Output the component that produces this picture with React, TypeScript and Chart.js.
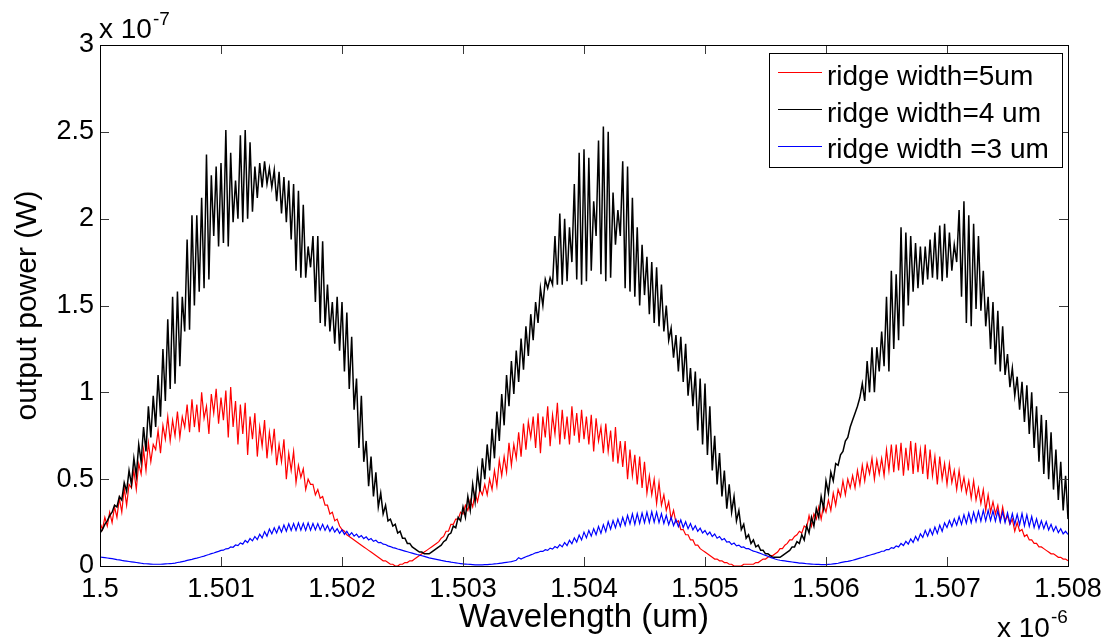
import { useEffect, useRef } from 'react';
import { Chart, registerables } from 'chart.js';

Chart.register(...registerables);

// Sampling grid of the wavelength axis (values shown in units of 1e-6)
const WL_START = 1.5;
const WL_STEP = 0.00002;

const X_TICKS = [1.5, 1.501, 1.502, 1.503, 1.504, 1.505, 1.506, 1.507, 1.508];
const X_TICK_LABELS = ['1.5', '1.501', '1.502', '1.503', '1.504', '1.505', '1.506', '1.507', '1.508'];
const Y_TICKS = [0, 0.5, 1, 1.5, 2, 2.5, 3];
const Y_TICK_LABELS = ['0', '0.5', '1', '1.5', '2', '2.5', '3'];

const SERIES_NAMES = ['ridge width=5um', 'ridge width=4 um', 'ridge width =3 um'];
const SERIES_COLORS = ['#ff0000', '#000000', '#0000ff'];

// output power, units of 1e-7 W
const red5um = [
  0.25, 0.21, 0.28, 0.23, 0.31, 0.25, 0.34, 0.28, 0.39, 0.31,
  0.45, 0.35, 0.47, 0.45, 0.55, 0.44, 0.59, 0.53, 0.67, 0.55,
  0.71, 0.60, 0.70, 0.67, 0.78, 0.65, 0.81, 0.73, 0.86, 0.72,
  0.84, 0.75, 0.89, 0.74, 0.86, 0.80, 0.93, 0.77, 0.96, 0.80,
  0.93, 0.77, 1.00, 0.85, 0.92, 0.76, 0.99, 0.88, 1.02, 0.82,
  0.97, 0.84, 1.01, 0.74, 1.03, 0.80, 0.95, 0.70, 0.93, 0.76,
  0.94, 0.64, 0.86, 0.73, 0.88, 0.63, 0.80, 0.69, 0.84, 0.62,
  0.77, 0.66, 0.79, 0.58, 0.70, 0.60, 0.73, 0.50, 0.65, 0.55,
  0.66, 0.48, 0.58, 0.51, 0.56, 0.44, 0.50, 0.47, 0.47, 0.41,
  0.44, 0.39, 0.40, 0.35, 0.35, 0.30, 0.31, 0.26, 0.27, 0.23,
  0.21, 0.20, 0.18, 0.17, 0.16, 0.15, 0.14, 0.13, 0.12, 0.11,
  0.10, 0.09, 0.08, 0.07, 0.06, 0.05, 0.04, 0.03, 0.03, 0.02,
  0.01, 0.01, 0.00, 0.00, 0.01, 0.01, 0.02, 0.02, 0.03, 0.03,
  0.04, 0.05, 0.06, 0.07, 0.08, 0.09, 0.10, 0.11, 0.12, 0.13,
  0.14, 0.16, 0.17, 0.20, 0.20, 0.24, 0.24, 0.27, 0.27, 0.31,
  0.30, 0.35, 0.32, 0.38, 0.34, 0.42, 0.37, 0.44, 0.41, 0.47,
  0.41, 0.50, 0.44, 0.55, 0.46, 0.61, 0.52, 0.63, 0.54, 0.71,
  0.58, 0.70, 0.62, 0.77, 0.63, 0.82, 0.67, 0.83, 0.74, 0.86,
  0.68, 0.88, 0.65, 0.86, 0.74, 0.92, 0.69, 0.87, 0.76, 0.94,
  0.70, 0.90, 0.73, 0.86, 0.70, 0.92, 0.75, 0.88, 0.71, 0.90,
  0.73, 0.86, 0.70, 0.87, 0.66, 0.85, 0.72, 0.80, 0.65, 0.82,
  0.66, 0.78, 0.60, 0.80, 0.59, 0.72, 0.57, 0.72, 0.50, 0.67,
  0.52, 0.64, 0.47, 0.63, 0.45, 0.60, 0.42, 0.52, 0.41, 0.50,
  0.36, 0.48, 0.35, 0.41, 0.32, 0.37, 0.27, 0.32, 0.25, 0.26,
  0.21, 0.21, 0.18, 0.18, 0.15, 0.15, 0.12, 0.12, 0.10, 0.09,
  0.08, 0.07, 0.06, 0.05, 0.04, 0.04, 0.03, 0.03, 0.02, 0.02,
  0.01, 0.01, 0.00, 0.00, 0.00, 0.00, 0.01, 0.01, 0.01, 0.01,
  0.01, 0.02, 0.02, 0.03, 0.04, 0.04, 0.05, 0.06, 0.06, 0.07,
  0.08, 0.10, 0.10, 0.12, 0.13, 0.15, 0.15, 0.17, 0.18, 0.20,
  0.19, 0.23, 0.22, 0.29, 0.23, 0.30, 0.27, 0.34, 0.27, 0.35,
  0.31, 0.38, 0.32, 0.42, 0.35, 0.44, 0.40, 0.49, 0.41, 0.50,
  0.45, 0.52, 0.45, 0.55, 0.47, 0.58, 0.49, 0.59, 0.53, 0.62,
  0.50, 0.61, 0.53, 0.62, 0.52, 0.67, 0.55, 0.70, 0.54, 0.70,
  0.55, 0.71, 0.52, 0.68, 0.55, 0.72, 0.53, 0.71, 0.54, 0.67,
  0.53, 0.70, 0.50, 0.67, 0.52, 0.63, 0.47, 0.63, 0.50, 0.59,
  0.47, 0.59, 0.48, 0.55, 0.44, 0.55, 0.44, 0.51, 0.42, 0.49,
  0.39, 0.49, 0.38, 0.45, 0.36, 0.44, 0.32, 0.41, 0.31, 0.37,
  0.30, 0.35, 0.26, 0.34, 0.26, 0.29, 0.24, 0.27, 0.20, 0.25,
  0.20, 0.21, 0.17, 0.18, 0.15, 0.15, 0.13, 0.13, 0.11, 0.11,
  0.10, 0.09, 0.08, 0.07, 0.07, 0.06, 0.05, 0.05, 0.04, 0.04,
  0.03,
];

const black4um = [
  0.19, 0.21, 0.24, 0.26, 0.29, 0.31, 0.35, 0.34, 0.40, 0.38,
  0.48, 0.43, 0.55, 0.47, 0.62, 0.52, 0.70, 0.60, 0.80, 0.66,
  0.92, 0.74, 0.98, 0.80, 1.10, 0.86, 1.25, 0.95, 1.42, 1.02,
  1.55, 1.05, 1.58, 1.15, 1.55, 1.35, 1.88, 1.36, 2.02, 1.50,
  2.02, 1.58, 2.12, 1.60, 2.37, 1.65, 2.25, 1.90, 2.30, 1.84,
  2.32, 1.86, 2.51, 1.84, 2.38, 1.98, 2.22, 2.00, 2.48, 1.98,
  2.51, 2.00, 2.44, 2.04, 2.30, 2.12, 2.32, 2.18, 2.33, 2.20,
  2.29, 2.18, 2.28, 2.10, 2.27, 2.03, 2.24, 1.98, 2.22, 1.88,
  2.20, 1.70, 2.16, 1.66, 2.08, 1.66, 1.84, 1.72, 1.90, 1.52,
  1.90, 1.40, 1.87, 1.38, 1.62, 1.35, 1.52, 1.28, 1.55, 1.24,
  1.52, 1.12, 1.46, 1.02, 1.32, 0.90, 1.08, 0.68, 0.98, 0.60,
  0.72, 0.46, 0.63, 0.40, 0.54, 0.34, 0.42, 0.30, 0.35, 0.26,
  0.27, 0.23, 0.24, 0.19, 0.20, 0.16, 0.16, 0.13, 0.13, 0.11,
  0.10, 0.09, 0.08, 0.08, 0.07, 0.07, 0.07, 0.08, 0.09, 0.10,
  0.11, 0.12, 0.14, 0.15, 0.18, 0.19, 0.23, 0.22, 0.28, 0.26,
  0.34, 0.28, 0.40, 0.32, 0.47, 0.37, 0.54, 0.43, 0.62, 0.50,
  0.70, 0.55, 0.79, 0.62, 0.89, 0.72, 0.99, 0.81, 1.10, 0.92,
  1.18, 0.99, 1.24, 1.06, 1.31, 1.13, 1.38, 1.21, 1.45, 1.30,
  1.52, 1.40, 1.60, 1.50, 1.65, 1.60, 1.66, 1.62, 1.90, 1.62,
  2.03, 1.62, 2.00, 1.64, 1.95, 1.75, 2.20, 1.65, 2.38, 1.62,
  2.40, 1.64, 2.35, 1.70, 2.10, 1.90, 2.45, 1.68, 2.53, 1.64,
  2.50, 1.66, 2.15, 1.85, 2.05, 1.90, 2.33, 1.60, 2.30, 1.58,
  2.12, 1.55, 1.95, 1.50, 1.85, 1.56, 1.78, 1.45, 1.75, 1.40,
  1.72, 1.38, 1.62, 1.35, 1.50, 1.30, 1.37, 1.20, 1.33, 1.12,
  1.32, 1.06, 1.28, 0.98, 1.14, 0.92, 1.12, 0.78, 1.08, 0.70,
  1.05, 0.64, 0.92, 0.55, 0.75, 0.47, 0.65, 0.40, 0.55, 0.33,
  0.47, 0.31, 0.40, 0.26, 0.32, 0.21, 0.24, 0.16, 0.18, 0.13,
  0.15, 0.11, 0.12, 0.09, 0.09, 0.07, 0.07, 0.06, 0.05, 0.05,
  0.05, 0.05, 0.06, 0.07, 0.08, 0.09, 0.11, 0.11, 0.14, 0.13,
  0.18, 0.15, 0.23, 0.19, 0.28, 0.23, 0.33, 0.28, 0.40, 0.33,
  0.49, 0.42, 0.54, 0.49, 0.59, 0.58, 0.64, 0.66, 0.72, 0.74,
  0.80, 0.84, 0.88, 0.92, 0.97, 1.05, 0.95, 1.18, 1.00, 1.26,
  1.00, 1.26, 1.12, 1.35, 1.15, 1.55, 1.12, 1.70, 1.25, 1.68,
  1.30, 1.95, 1.38, 1.92, 1.50, 1.90, 1.58, 1.86, 1.60, 1.84,
  1.62, 1.84, 1.65, 1.88, 1.66, 1.92, 1.65, 1.96, 1.64, 1.97,
  1.66, 1.92, 1.70, 1.85, 1.75, 2.05, 1.55, 2.10, 1.40, 2.02,
  1.38, 1.97, 1.48, 1.90, 1.47, 1.70, 1.38, 1.55, 1.25, 1.52,
  1.16, 1.47, 1.12, 1.38, 1.10, 1.22, 1.03, 1.14, 0.98, 1.09,
  0.90, 1.06, 0.83, 1.04, 0.76, 1.00, 0.68, 0.92, 0.60, 0.87,
  0.53, 0.84, 0.50, 0.77, 0.44, 0.67, 0.38, 0.60, 0.32, 0.52,
  0.27,
];

const blue3um = [
  0.052, 0.050, 0.048, 0.046, 0.044, 0.042, 0.040, 0.037, 0.035, 0.032,
  0.030, 0.028, 0.026, 0.024, 0.022, 0.020, 0.018, 0.016, 0.014, 0.013,
  0.012, 0.011, 0.010, 0.010, 0.010, 0.010, 0.011, 0.012, 0.013, 0.014,
  0.015, 0.017, 0.020, 0.022, 0.025, 0.028, 0.032, 0.035, 0.038, 0.042,
  0.045, 0.049, 0.053, 0.057, 0.062, 0.066, 0.071, 0.075, 0.080, 0.084,
  0.090, 0.091, 0.099, 0.100, 0.110, 0.108, 0.121, 0.117, 0.133, 0.126,
  0.147, 0.135, 0.158, 0.145, 0.170, 0.152, 0.183, 0.162, 0.198, 0.172,
  0.213, 0.185, 0.220, 0.190, 0.228, 0.195, 0.236, 0.200, 0.243, 0.205,
  0.245, 0.205, 0.248, 0.206, 0.246, 0.205, 0.248, 0.206, 0.245, 0.208,
  0.244, 0.208, 0.240, 0.205, 0.233, 0.200, 0.225, 0.195, 0.215, 0.188,
  0.208, 0.182, 0.200, 0.176, 0.192, 0.172, 0.184, 0.165, 0.175, 0.158,
  0.168, 0.150, 0.158, 0.142, 0.148, 0.134, 0.136, 0.126, 0.124, 0.116,
  0.112, 0.106, 0.103, 0.098, 0.094, 0.090, 0.086, 0.082, 0.078, 0.074,
  0.070, 0.066, 0.063, 0.059, 0.055, 0.051, 0.047, 0.044, 0.041, 0.038,
  0.035, 0.032, 0.030, 0.027, 0.025, 0.022, 0.020, 0.018, 0.016, 0.014,
  0.012, 0.011, 0.010, 0.009, 0.008, 0.007, 0.007, 0.007, 0.007, 0.008,
  0.008, 0.009, 0.010, 0.012, 0.013, 0.015, 0.017, 0.019, 0.021, 0.023,
  0.025, 0.029, 0.033, 0.048, 0.040, 0.047, 0.053, 0.058, 0.064, 0.069,
  0.076, 0.078, 0.085, 0.084, 0.094, 0.090, 0.103, 0.097, 0.112, 0.104,
  0.123, 0.110, 0.135, 0.118, 0.148, 0.128, 0.162, 0.138, 0.178, 0.150,
  0.195, 0.162, 0.205, 0.172, 0.215, 0.180, 0.228, 0.188, 0.238, 0.198,
  0.255, 0.212, 0.262, 0.220, 0.270, 0.228, 0.280, 0.235, 0.292, 0.242,
  0.300, 0.240, 0.302, 0.245, 0.305, 0.250, 0.310, 0.250, 0.312, 0.252,
  0.310, 0.250, 0.302, 0.245, 0.292, 0.238, 0.280, 0.232, 0.268, 0.226,
  0.265, 0.222, 0.255, 0.215, 0.245, 0.208, 0.232, 0.200, 0.218, 0.190,
  0.204, 0.180, 0.195, 0.170, 0.184, 0.160, 0.170, 0.150, 0.158, 0.138,
  0.140, 0.124, 0.132, 0.116, 0.120, 0.108, 0.110, 0.100, 0.100, 0.092,
  0.086, 0.082, 0.077, 0.072, 0.066, 0.061, 0.056, 0.050, 0.045, 0.040,
  0.036, 0.033, 0.031, 0.029, 0.027, 0.025, 0.023, 0.021, 0.019, 0.017,
  0.016, 0.015, 0.013, 0.012, 0.011, 0.010, 0.009, 0.009, 0.008, 0.008,
  0.008, 0.009, 0.010, 0.012, 0.014, 0.016, 0.019, 0.022, 0.025, 0.027,
  0.030, 0.033, 0.037, 0.041, 0.045, 0.049, 0.053, 0.058, 0.062, 0.066,
  0.070, 0.075, 0.078, 0.085, 0.086, 0.095, 0.094, 0.106, 0.102, 0.116,
  0.110, 0.130, 0.118, 0.142, 0.126, 0.156, 0.136, 0.170, 0.146, 0.185,
  0.165, 0.205, 0.172, 0.212, 0.180, 0.224, 0.188, 0.236, 0.200, 0.248,
  0.222, 0.262, 0.228, 0.272, 0.235, 0.284, 0.240, 0.295, 0.246, 0.305,
  0.250, 0.310, 0.256, 0.315, 0.258, 0.320, 0.260, 0.320, 0.262, 0.318,
  0.258, 0.318, 0.254, 0.312, 0.250, 0.306, 0.245, 0.302, 0.240, 0.298,
  0.238, 0.302, 0.232, 0.295, 0.228, 0.285, 0.222, 0.272, 0.216, 0.260,
  0.215, 0.255, 0.208, 0.240, 0.200, 0.228, 0.192, 0.215, 0.185, 0.200,
  0.182,
];

const SERIES_WIDTHS = [1.2, 1.5, 1.2];

const FONT = '"Liberation Sans", Arial, Helvetica, sans-serif';
const W = 1116;
const H = 643;

const matlabOverlay = {
  id: 'matlabOverlay',
  afterDraw(chart: any) {
    const { ctx, chartArea, scales } = chart;
    const { left, right, top, bottom } = chartArea;
    const TICK = 9;
    ctx.save();
    // inward tick marks on all four sides
    ctx.strokeStyle = '#3a3a3a';
    ctx.lineWidth = 1;
    ctx.beginPath();
    X_TICKS.forEach((v) => {
      const px = Math.round(scales.x.getPixelForValue(v)) + 0.5;
      ctx.moveTo(px, bottom);
      ctx.lineTo(px, bottom - TICK);
      ctx.moveTo(px, top);
      ctx.lineTo(px, top + TICK);
    });
    Y_TICKS.forEach((v) => {
      const py = Math.round(scales.y.getPixelForValue(v)) + 0.5;
      ctx.moveTo(left, py);
      ctx.lineTo(left + TICK, py);
      ctx.moveTo(right, py);
      ctx.lineTo(right - TICK, py);
    });
    ctx.stroke();
    // axes box
    ctx.strokeStyle = '#000000';
    ctx.strokeRect(left + 0.5, top + 0.5, right - left, bottom - top);

    // exponent labels
    ctx.fillStyle = '#000000';
    ctx.textAlign = 'left';
    ctx.textBaseline = 'alphabetic';
    ctx.font = `28px ${FONT}`;
    ctx.fillText('x 10', 99, 38);
    ctx.fillText('x 10', 997, 637);
    ctx.font = `19px ${FONT}`;
    ctx.fillText('-7', 153, 25);
    ctx.fillText('-6', 1051, 623);

    // legend
    const lx = 769, ly = 53, lw = 293, lh = 114;
    ctx.fillStyle = '#ffffff';
    ctx.fillRect(lx, ly, lw, lh);
    ctx.strokeStyle = '#000000';
    ctx.strokeRect(lx + 0.5, ly + 0.5, lw, lh);
    ctx.font = `28px ${FONT}`;
    SERIES_NAMES.forEach((name, i) => {
      const base = 85 + i * 36.7;
      ctx.strokeStyle = SERIES_COLORS[i];
      ctx.beginPath();
      ctx.moveTo(778, Math.round(base - 12.7) + 0.5);
      ctx.lineTo(822, Math.round(base - 12.7) + 0.5);
      ctx.stroke();
      ctx.fillStyle = '#000000';
      ctx.fillText(name, 827, base);
    });
    ctx.restore();
  },
};

export default function App() {
  const canvasRef = useRef<HTMLCanvasElement | null>(null);

  useEffect(() => {
    document.body.style.margin = '0';
    const canvas = canvasRef.current;
    if (!canvas) return;
    const wavelength = black4um.map((_, i) => WL_START + i * WL_STEP);
    const series = [red5um, black4um, blue3um];
    const chart = new Chart(canvas, {
      type: 'line',
      data: {
        datasets: series.map((vals, s) => ({
          label: SERIES_NAMES[s],
          data: vals.map((v, i) => ({ x: wavelength[i], y: v })),
          borderColor: SERIES_COLORS[s],
          backgroundColor: SERIES_COLORS[s],
          borderWidth: SERIES_WIDTHS[s],
          pointRadius: 0,
          tension: 0,
          fill: false,
          order: 2 - s,
        })),
      },
      options: {
        animation: false,
        responsive: false,
        maintainAspectRatio: false,
        devicePixelRatio: 1,
        events: [],
        layout: { padding: { top: 45, right: 48, left: 0, bottom: 0 } },
        plugins: {
          legend: { display: false },
          tooltip: { enabled: false },
        },
        scales: {
          x: {
            type: 'linear',
            min: 1.5,
            max: 1.508,
            afterBuildTicks: (scale: any) => {
              scale.ticks = X_TICKS.map((v) => ({ value: v }));
            },
            afterFit: (scale: any) => {
              scale.height = 77;
            },
            grid: { display: false, drawTicks: false },
            border: { display: false },
            ticks: {
              autoSkip: false,
              maxRotation: 0,
              padding: 7,
              color: '#000000',
              font: { family: FONT, size: 27 },
              callback: (_v: any, i: number) => X_TICK_LABELS[i],
            },
            title: {
              display: true,
              text: 'Wavelength (um)',
              color: '#000000',
              font: { family: FONT, size: 33 },
              padding: { top: 0, bottom: 5 },
            },
          },
          y: {
            type: 'linear',
            min: 0,
            max: 3,
            afterBuildTicks: (scale: any) => {
              scale.ticks = Y_TICKS.map((v) => ({ value: v }));
            },
            afterFit: (scale: any) => {
              scale.width = 100;
            },
            grid: { display: false, drawTicks: false },
            border: { display: false },
            ticks: {
              padding: 6,
              color: '#000000',
              font: { family: FONT, size: 27 },
              callback: (_v: any, i: number) => Y_TICK_LABELS[i],
            },
            title: {
              display: true,
              text: 'output power (W)',
              color: '#000000',
              font: { family: FONT, size: 30 },
              padding: { top: 10, bottom: 0 },
            },
          },
        },
      },
      plugins: [matlabOverlay],
    } as any);
    return () => chart.destroy();
  }, []);

  return (
    <div style={{ position: 'absolute', left: 0, top: 0, width: W, height: H }}>
      <canvas ref={canvasRef} width={W} height={H} style={{ display: 'block' }} />
    </div>
  );
}
